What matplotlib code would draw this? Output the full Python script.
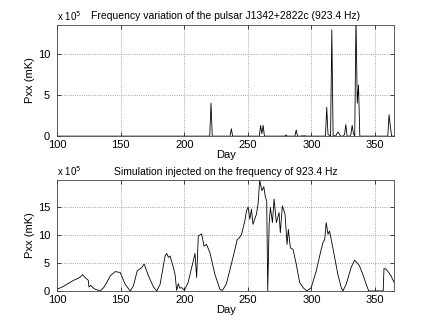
import numpy as np
import matplotlib
matplotlib.use('Agg')
import matplotlib.pyplot as plt

plt.rcParams['font.family'] = ['Liberation Sans', 'DejaVu Sans']

# top panel: daily values (x 1e5), zero except these spikes
days = list(range(100, 366))
spike_days = [221, 237, 260, 261, 262, 280, 288, 293, 295, 312, 313, 314, 316, 318,
              320, 321, 322, 326, 327, 331, 332, 333, 335, 336, 337, 361, 362]
spike_vals = [4.0, 0.9, 1.3, 0.3, 1.3, 0.15, 0.75, 0.05, 0.05, 3.5, 0.2, 0.1, 12.9, 0.05,
              0.3, 0.5, 0.2, 0.2, 1.4, 0.2, 1.3, 0.3, 14.5, 4.0, 6.2, 2.6, 1.2]
pxx_top = [0.0] * len(days)
for d, v in zip(spike_days, spike_vals):
    pxx_top[days.index(d)] = v

# bottom panel: simulated signal (x 1e5)
sim_days = [100, 104, 107.8, 110, 113, 116, 118.3, 120, 122, 123.5, 124.5, 125, 126.5,
            128, 130, 134, 136.6, 139, 141.8, 145.7, 149.6, 153.5, 157.5, 160, 163,
            165, 166.6, 168.4, 171.8, 175.8, 178.4, 181, 184.9, 186.2, 187.5, 188.8,
            191.4, 192.7, 194, 195.3, 196.5, 198, 200, 203, 205.8, 207, 208.4, 209.7,
            211, 213.6, 215.5, 217.5, 220.2, 224, 228, 230, 233, 237, 239.8, 241.6,
            243, 245, 247.6, 248.9, 250.2, 251.5, 252.8, 254, 256.7, 258, 259.3, 261,
            262.5, 263.8, 264.8, 265.6, 266.7, 267.7, 269.3, 270.6, 272.4, 274.5,
            275.5, 277.1, 279.2, 280.8, 281.8, 283.4, 285.5, 288, 290.7, 293.8, 296.4,
            299.8, 303.8, 307, 309, 310.4, 311.6, 313, 314.2, 316.8, 320.7, 323.4,
            324.7, 327.3, 331.2, 333.8, 335.6, 337.7, 340.3, 343, 345, 350, 356.4,
            357, 358.6, 360.7, 362.5, 365]
sim_vals = [0.3, 0.7, 1.2, 1.5, 1.9, 2.2, 2.5, 2.9, 2.4, 2.1, 1.9, 0.7, 1.0,
            0.6, 0.3, 0.0, 0.6, 1.5, 2.7, 3.45, 3.3, 1.2, 0.0, 0.9, 3.6,
            3.9, 4.2, 4.8, 2.7, 0.7, 0.0, 1.2, 6.25, 6.7, 6.0, 6.25,
            4.2, 3.0, 0.1, 1.3, 0.5, 0.6, 0.1, 1.5, 4.2, 5.3, 6.7, 2.4,
            9.8, 10.2, 8.0, 8.3, 6.8, 3.0, 0.3, 0.1, 1.2, 4.8, 7.4, 9.2,
            9.4, 10.1, 12.5, 14.3, 15.0, 12.8, 14.6, 11.9, 13.7, 15.5, 19.8, 17.9,
            18.6, 16.7, 16.1, 0.0, 11.9, 14.9, 12.2, 16.4, 12.2, 14.0,
            10.4, 15.2, 13.7, 8.3, 11.0, 7.7, 7.4, 4.8, 1.5, 0.5, 0.0,
            0.6, 3.6, 6.8, 8.6, 9.2, 12.2, 10.1, 10.7, 7.7, 3.0, 0.6,
            0.0, 1.2, 4.2, 5.5, 5.1, 4.5, 3.0, 1.2, 0.0, 0.0, 0.0,
            4.0, 3.9, 3.3, 2.7, 1.5]

fig = plt.figure(figsize=(4.36, 3.28), dpi=100)
ax1 = fig.add_axes([0.131, 0.585, 0.773, 0.339])
ax2 = fig.add_axes([0.131, 0.113, 0.773, 0.338])

panels = [
    (ax1, days, pxx_top, 13.5, [0, 5, 10],
     'Frequency variation of the pulsar J1342+2822c (923.4 Hz)'),
    (ax2, sim_days, sim_vals, 19.8, [0, 5, 10, 15],
     'Simulation injected on the frequency of 923.4 Hz'),
]

for ax, x, y, ytop, yt, title in panels:
    ax.plot(x, y, color='k', linewidth=0.6)
    ax.set_xlim(100, 365)
    ax.set_ylim(0, ytop)
    ax.set_xticks([100, 150, 200, 250, 300, 350])
    ax.set_yticks(yt)
    ax.grid(True, linestyle=':', color='#888888', linewidth=0.6)
    ax.tick_params(direction='in', top=True, right=True, labelsize=8,
                   length=3, width=0.5)
    ax.tick_params(axis='y', pad=5)
    ax.tick_params(axis='x', pad=3)
    for s in ax.spines.values():
        s.set_linewidth(0.6)
        s.set_color('#444444')
    ax.set_xlabel('Day', fontsize=8, labelpad=0)
    ax.set_ylabel('Pxx (mK)', fontsize=8, labelpad=2)
    ax.set_title(title, fontsize=7.5, pad=4)
    ax.text(0, 1.02, r'x 10$^5$', transform=ax.transAxes, fontsize=7,
            ha='left', va='bottom')

fig.savefig('out.png', dpi=100)
